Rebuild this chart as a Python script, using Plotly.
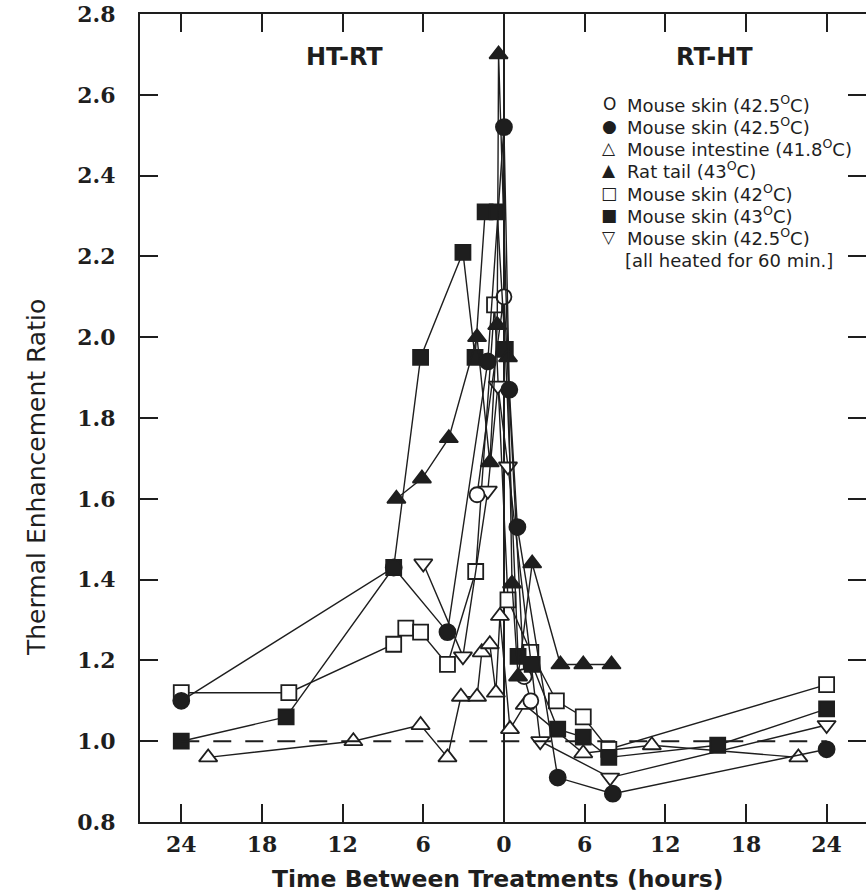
import plotly.graph_objects as go

# Time between treatments in hours: negative = heat before radiation (HT-RT),
# positive = radiation before heat (RT-HT)
hours_open_circle = [-2.0, 0.0, 1.5, 2.0]
ter_open_circle = [1.61, 2.10, 1.16, 1.10]

hours_filled_circle = [-24, -8.2, -4.2, -1.2, 0.0, 0.4, 1.0, 4.0, 8.1, 24]
ter_filled_circle = [1.10, 1.43, 1.27, 1.94, 2.52, 1.87, 1.53, 0.91, 0.87, 0.98]

hours_open_tri = [-22, -11.2, -6.2, -4.2, -3.2, -2.0, -1.65, -1.05, -0.6, -0.3, 0.45, 1.55, 5.9, 11.0, 21.9]
ter_open_tri = [0.96, 1.00, 1.04, 0.96, 1.11, 1.11, 1.22, 1.24, 1.12, 1.31, 1.03, 1.09, 0.97, 0.99, 0.96]

hours_filled_tri = [-8.0, -6.1, -4.1, -2.0, -1.05, -0.5, -0.4, 0.3, 0.6, 1.05, 2.1, 4.2, 5.9, 8.0]
ter_filled_tri = [1.60, 1.65, 1.75, 2.00, 1.69, 2.03, 2.70, 1.95, 1.39, 1.16, 1.44, 1.19, 1.19, 1.19]

hours_open_sq = [-24, -16, -8.2, -7.3, -6.2, -4.2, -2.1, -0.7, 0.3, 2.0, 3.9, 5.9, 7.8, 24]
ter_open_sq = [1.12, 1.12, 1.24, 1.28, 1.27, 1.19, 1.42, 2.08, 1.35, 1.22, 1.10, 1.06, 0.98, 1.14]

hours_filled_sq = [-24, -16.2, -8.2, -6.2, -3.05, -2.15, -1.4, -0.5, 0.1, 1.05, 2.1, 4.0, 5.9, 7.8, 15.9, 24]
ter_filled_sq = [1.00, 1.06, 1.43, 1.95, 2.21, 1.95, 2.31, 2.31, 1.97, 1.21, 1.19, 1.03, 1.01, 0.96, 0.99, 1.08]

hours_inv_tri = [-6.0, -3.05, -1.2, -0.45, 0.3, 2.7, 7.9, 24]
ter_inv_tri = [1.44, 1.21, 1.62, 1.88, 1.68, 1.00, 0.91, 1.04]

tick_hours = [-24, -18, -12, -6, 0, 6, 12, 18, 24]
tick_text = ["24", "18", "12", "6", "0", "6", "12", "18", "24"]

legend_symbols = ["O", "\u25CF", "\u25B3", "\u25B2", "\u25A1", "\u25A0", "\u25BD"]
legend_labels = [
    "Mouse skin (42.5<sup>O</sup>C)",
    "Mouse skin (42.5<sup>O</sup>C)",
    "Mouse intestine (41.8<sup>O</sup>C)",
    "Rat tail (43<sup>O</sup>C)",
    "Mouse skin (42<sup>O</sup>C)",
    "Mouse skin (43<sup>O</sup>C)",
    "Mouse skin (42.5<sup>O</sup>C)",
]
legend_note = "[all heated for 60 min.]"

INK = "#1e1e1e"
W, H = 866, 894
ML, MR, MT, MB = 140, 0, 14, 72
PW, PH = W - ML - MR, H - MT - MB


def px(xp):
    return (xp - ML) / PW


def py(yp):
    return (H - MB - yp) / PH


series = [
    (hours_open_sq, ter_open_sq, "square", "white", 15),
    (hours_open_tri, ter_open_tri, "triangle-up", "white", 16),
    (hours_inv_tri, ter_inv_tri, "triangle-down", "white", 16),
    (hours_open_circle, ter_open_circle, "circle", "white", 15),
    (hours_filled_sq, ter_filled_sq, "square", INK, 15),
    (hours_filled_tri, ter_filled_tri, "triangle-up", INK, 16),
    (hours_filled_circle, ter_filled_circle, "circle", INK, 16),
]

fig = go.Figure()

# reference level TER = 1
fig.add_trace(go.Scatter(
    x=[-24, 24], y=[1.0, 1.0], mode="lines", yaxis="y2",
    line=dict(color=INK, width=2, dash="18px,14px"),
    hoverinfo="skip", showlegend=False,
))

for xs, ys, sym, fill, size in series:
    fig.add_trace(go.Scatter(
        x=xs, y=ys, mode="lines+markers",
        line=dict(color=INK, width=1.4),
        marker=dict(symbol=sym, size=size, color=fill,
                    line=dict(color=INK, width=1.8)),
        showlegend=False,
    ))

annotations = []
legend_y = [104, 126, 148, 170, 193, 215, 237]
for sym, lab, yy in zip(legend_symbols, legend_labels, legend_y):
    annotations.append(dict(
        x=px(609), y=py(yy), xref="paper", yref="paper", text=sym,
        showarrow=False, xanchor="center", yanchor="middle",
        font=dict(family="DejaVu Sans", size=17, color=INK),
    ))
    annotations.append(dict(
        x=px(625), y=py(yy), xref="paper", yref="paper", text=lab,
        showarrow=False, xanchor="left", yanchor="middle",
        font=dict(family="DejaVu Sans", size=18, color=INK),
    ))
annotations.append(dict(
    x=px(623), y=py(260), xref="paper", yref="paper", text=legend_note,
    showarrow=False, xanchor="left", yanchor="middle",
    font=dict(family="DejaVu Sans", size=18, color=INK),
))
annotations.append(dict(
    x=px(344), y=py(57), xref="paper", yref="paper", text="HT-RT",
    showarrow=False, xanchor="center", yanchor="middle",
    font=dict(family="DejaVu Sans", size=24, color=INK, weight="bold"),
))
annotations.append(dict(
    x=px(714), y=py(57), xref="paper", yref="paper", text="RT-HT",
    showarrow=False, xanchor="center", yanchor="middle",
    font=dict(family="DejaVu Sans", size=24, color=INK, weight="bold"),
))
annotations.append(dict(
    x=px(498), y=py(879), xref="paper", yref="paper",
    text="Time Between Treatments (hours)",
    showarrow=False, xanchor="center", yanchor="middle",
    font=dict(family="DejaVu Sans", size=23.5, color=INK, weight="bold"),
))
annotations.append(dict(
    x=px(36), y=py(478), xref="paper", yref="paper",
    text="Thermal Enhancement Ratio", textangle=-90,
    showarrow=False, xanchor="center", yanchor="middle",
    font=dict(family="DejaVu Sans", size=25, color=INK),
))

tick_font = dict(family="DejaVu Serif", size=22, color=INK, weight="bold")

fig.update_layout(
    width=W, height=H,
    margin=dict(l=ML, r=MR, t=MT, b=MB),
    paper_bgcolor="white", plot_bgcolor="white",
    showlegend=False,
    annotations=annotations,
    xaxis=dict(
        range=[-27.07, 26.93], tickvals=tick_hours, ticktext=tick_text,
        ticks="inside", ticklen=18, tickwidth=2, tickcolor=INK,
        showline=True, linewidth=2, linecolor=INK, mirror="ticks",
        showgrid=False, zeroline=True, zerolinewidth=2, zerolinecolor=INK,
        tickfont=tick_font, ticklabelstandoff=2,
    ),
    yaxis=dict(
        range=[0.8, 2.8], tick0=0.8, dtick=0.2, tickformat=".1f",
        ticks="inside", ticklen=18, tickwidth=2, tickcolor=INK,
        showline=True, linewidth=2, linecolor=INK, mirror=False,
        showgrid=False, zeroline=False,
        tickfont=tick_font, ticklabelstandoff=18,
    ),
    yaxis2=dict(
        range=[0.8, 2.8], tick0=0.8, dtick=0.2, overlaying="y", side="right",
        ticks="inside", ticklen=18, tickwidth=2, tickcolor=INK,
        showline=False, showticklabels=False, showgrid=False, zeroline=False,
    ),
)

fig.write_html("out.html")
